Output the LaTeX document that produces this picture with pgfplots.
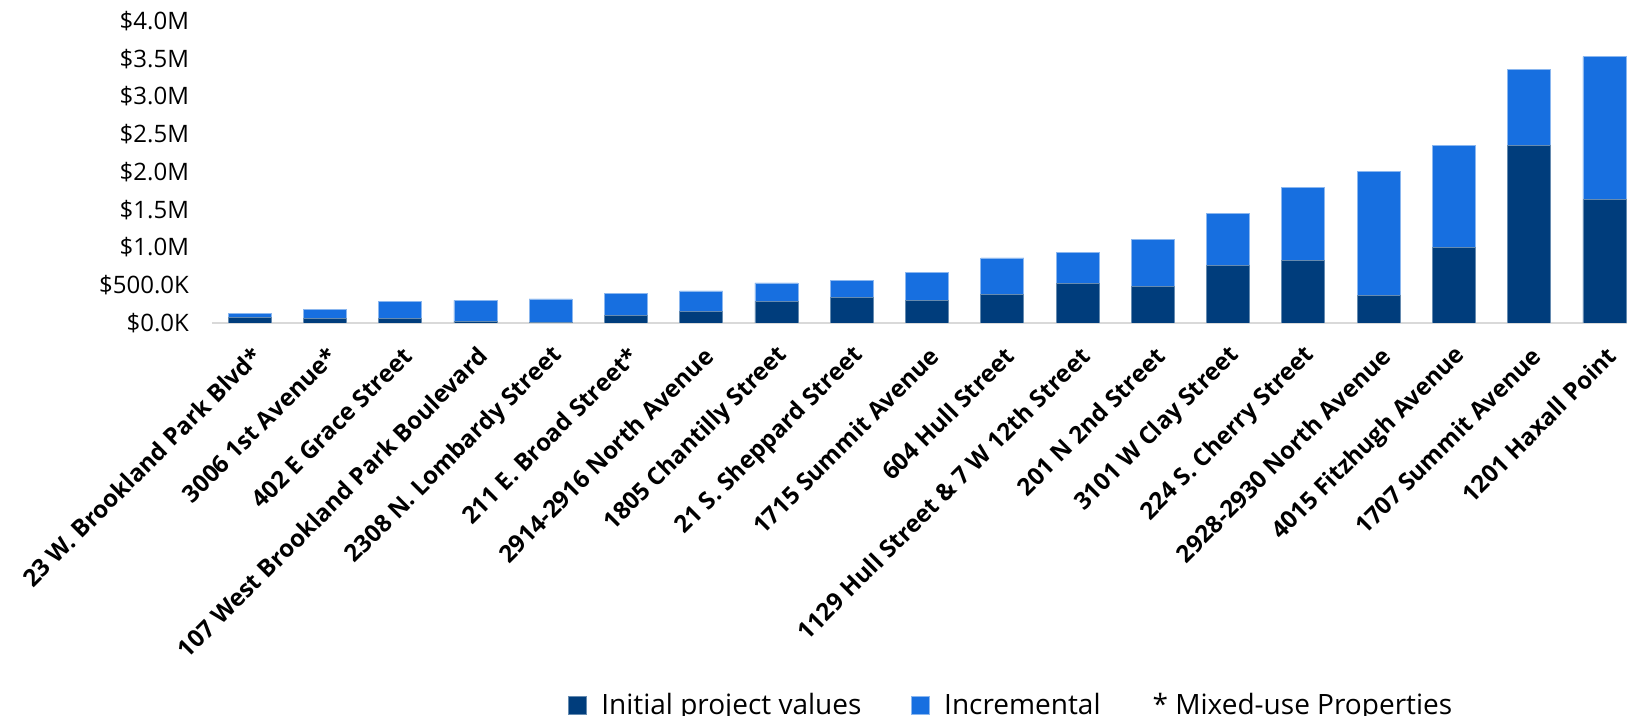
\documentclass[border=0pt]{standalone}
\usepackage{pgfplots}
\pgfplotsset{compat=1.18}
\usepackage{fontspec}
\setmainfont{Open Sans}
\definecolor{darkbar}{RGB}{0,61,124}
\definecolor{lightbar}{RGB}{23,111,224}
\definecolor{baseline}{RGB}{217,217,217}
\begin{document}
\begin{tikzpicture}
\begin{axis}[
  at={(0,0)}, anchor=south west,
  scale only axis,
  width=707.5pt, height=151pt,
  ybar stacked,
  bar width=21.5pt,
  xmin=-0.5, xmax=18.3,
  ymin=0, ymax=4.0,
  axis x line*=bottom,
  axis y line*=left,
  y axis line style={draw=none},
  x axis line style={draw=baseline, line width=1pt},
  major tick length=0pt,
  ytick={0,0.5,1,1.5,2,2.5,3,3.5,4},
  yticklabels={\$0.0K,\$500.0K,\$1.0M,\$1.5M,\$2.0M,\$2.5M,\$3.0M,\$3.5M,\$4.0M},
  yticklabel style={font=\fontsize{12}{14}\selectfont, anchor=east, xshift=-8pt},
  xtick=data,
  xticklabels={23 W. Brookland Park Blvd*,3006 1st Avenue*,402 E Grace Street,107 West Brookland Park Boulevard,2308 N. Lombardy Street,211 E. Broad Street*,2914-2916 North Avenue,1805 Chantilly Street,21 S. Sheppard Street,1715 Summit Avenue,604 Hull Street,1129 Hull Street \& 7 W 12th Street,201 N 2nd Street,3101 W Clay Street,224 S. Cherry Street,2928-2930 North Avenue,4015 Fitzhugh Avenue,1707 Summit Avenue,1201 Haxall Point},
  xticklabel style={font=\bfseries\fontsize{12}{14}\selectfont, rotate=45, anchor=east, yshift=-12.8pt, xshift=-4pt},
  legend style={at={(0.564,-1.267)}, anchor=center, legend columns=3, draw=none, fill=none,
    font=\fontsize{14}{16}\selectfont, nodes={inner sep=0pt},
    /tikz/every odd column/.append style={column sep=7.3pt},
    /tikz/every even column/.append style={column sep=24.7pt}},
  legend cell align=left,
  legend image code/.code={\fill[#1] (0pt,-4.5pt) rectangle (9pt,4.5pt);},
]
\addplot[fill=darkbar, draw=darkbar!60!white, line width=0.4pt] coordinates {
(0,0.075) (1,0.062) (2,0.062) (3,0.018) (4,0.008) (5,0.100) (6,0.150) (7,0.287) (8,0.340) (9,0.300)
(10,0.380) (11,0.525) (12,0.480) (13,0.764) (14,0.830) (15,0.366) (16,1.002) (17,2.349) (18,1.638)};
\addplot[fill=lightbar, draw=lightbar!50!white, line width=0.4pt] coordinates {
(0,0.053) (1,0.119) (2,0.221) (3,0.282) (4,0.310) (5,0.293) (6,0.274) (7,0.243) (8,0.225) (9,0.367)
(10,0.481) (11,0.415) (12,0.628) (13,0.689) (14,0.967) (15,1.638) (16,1.347) (17,1.011) (18,1.890)};
\legend{Initial project values, Incremental}
\addlegendimage{empty legend}
\addlegendentry{\hspace{-6pt}* Mixed-use Properties}
\end{axis}
\pgfresetboundingbox
\path[use as bounding box] (-106pt,-196.5pt) rectangle (707.5pt,161.5pt);
\end{tikzpicture}
\end{document}
